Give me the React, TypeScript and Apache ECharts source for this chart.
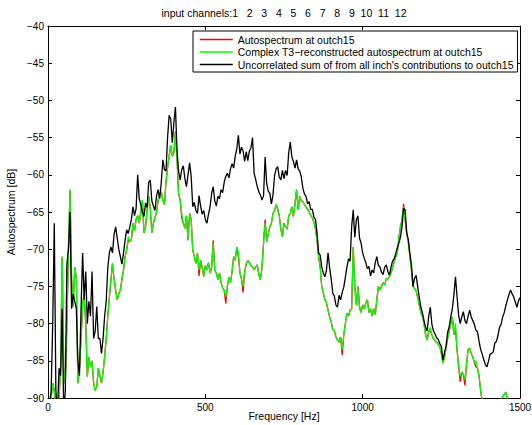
import React, { useEffect, useRef } from "react";
import * as echarts from "echarts";

// Frequency grid of the spectra (Hz), 5 Hz resolution from 0 to 1500 Hz
const FREQ_STEP = 5;
const frequencies: number[] = Array.from({ length: 301 }, (_, i) => i * FREQ_STEP);

const xTicks = [0, 500, 1000, 1500];
const yTicks = [-90, -85, -80, -75, -70, -65, -60, -55, -50, -45, -40];

const seriesNames = [
  "Autospectrum at outch15",
  "Complex T3\u2212reconstructed autospectrum at outch15",
  "Uncorrelated sum of from all inch's contributions to outch15",
];
const seriesColors = ["#ff0000", "#00ff00", "#000000"];

const titleText =
  "input channels:1\u00a0\u00a0\u00a02\u00a0\u00a0\u00a03\u00a0\u00a0\u00a04\u00a0\u00a0\u00a05\u00a0\u00a0\u00a06\u00a0\u00a0\u00a07\u00a0\u00a0\u00a08\u00a0\u00a0\u00a09\u00a0\u00a010\u00a0\u00a011\u00a0\u00a012";

// Uncorrelated sum (black), dB, one value per frequency
const uncorrelatedSum = [
  -95, -91, -89, -80, -66.5, -89, -92, -86, -87, -78,
  -92, -89, -72, -70, -65, -78, -76, -77, -78, -85,
  -87, -78, -70.5, -76.8, -73, -80, -77, -79, -73, -82,
  -81, -77.7, -82, -82, -84, -82, -79, -77, -72.5, -70.5,
  -69.7, -70.5, -68, -67, -68.5, -70, -71, -72, -70.5, -68.8,
  -67.4, -67.9, -67, -66, -64.3, -65.5, -64.5, -60, -63.2, -64,
  -65, -65.6, -63.8, -64.4, -61, -60.7, -63.5, -64.2, -64.8, -62.8,
  -62, -63.2, -61, -58, -59.3, -59.5, -55, -52, -52.5, -55.7,
  -53, -50.9, -56.7, -59.5, -60.7, -59.3, -58.8, -60.5, -61.6, -60,
  -58.4, -60.2, -64.3, -63.7, -64.8, -65.2, -62.8, -64.2, -65.3, -64.8,
  -66, -66.5, -65.3, -64.3, -62.5, -61.6, -63.5, -64.2, -62.9, -63.2,
  -62, -62.4, -61, -60.2, -59.8, -60.4, -59.2, -58.5, -59.1, -57.5,
  -56.5, -54.7, -57.2, -56.3, -56.8, -58.2, -56.9, -58.1, -56.8, -56.4,
  -55, -59.8, -60.6, -61.6, -62.3, -62.7, -63.4, -62.8, -57.6, -61.2,
  -62.2, -62.5, -63.9, -62.7, -60.1, -59.2, -58.9, -60.3, -60.7, -59.4,
  -60.5, -59.4, -60.1, -57, -55.6, -57.6, -58.2, -59.1, -58, -59.2,
  -59.5, -60.3, -61.8, -62.6, -62.9, -63.9, -63.6, -64.7, -64.6, -65.7,
  -66, -67.8, -70.5, -70.8, -72.4, -73.2, -73.7, -72.8, -70.5, -72.5,
  -74, -75.9, -76.3, -77.5, -77.8, -76.2, -76.8, -75.8, -75.1, -73.8,
  -72.4, -71.3, -71.6, -67, -64.7, -68.4, -66, -65.5, -68.5, -69.2,
  -70.5, -71.2, -71.8, -72.6, -72.3, -73.6, -72.8, -73.2, -71.8, -71,
  -72.2, -72.4, -73.1, -73.4, -72.4, -72.1, -73, -73.5, -72.4, -71.6,
  -71.3, -70.6, -69.8, -69.2, -68.4, -67, -64.5, -64.7, -67.8, -68.7,
  -70.5, -72.1, -75, -73.9, -73.5, -75.1, -76.5, -77.8, -78.6, -79.6,
  -80.5, -81, -79, -77.8, -80.1, -81, -81.4, -81.9, -82.1, -82.7,
  -83, -84.9, -83.9, -83, -81.2, -80.4, -79.1, -78, -76.1, -73.7,
  -76.4, -78.9, -80, -79.1, -78.4, -79.6, -80, -79, -78.2, -79.1,
  -79.6, -80.1, -80.9, -81.1, -82.4, -83.5, -84.1, -84.9, -85.5, -85.8,
  -85, -84.1, -84, -83.8, -82.6, -82.4, -81.6, -80.5, -80.1, -79.1,
  -78.5, -77.6, -76.8, -76.1, -75.5, -76, -76.4, -77.1, -77.8, -77,
  -76.5,
];

// Complex T3-reconstructed autospectrum (green), dB
const reconstructedSpectrum = [
  -95, -92, -90, -88, -89, -91, -92, -90, -86, -71,
  -86, -88, -80, -70, -62, -74.1, -77.7, -72.4, -74, -88,
  -86, -82, -77.3, -76, -80, -87.1, -84.5, -85.8, -85, -88,
  -89, -88.5, -86, -87, -88, -86.5, -84.5, -82, -79, -76.5,
  -74.1, -71.9, -74, -75.5, -76.8, -76, -75.5, -74, -72.8, -71,
  -70.1, -68.3, -69, -68.7, -66.5, -67.5, -66, -65.5, -66.5, -65,
  -63.4, -67.8, -67, -64.7, -62.9, -64.5, -67.8, -66.5, -65.8, -65,
  -63.4, -62.6, -62.3, -63.4, -64, -61, -59, -57.5, -56, -57.5,
  -57, -54.2, -57.9, -62.5, -63.4, -65.2, -66.5, -67.2, -65.5, -68.8,
  -65.2, -66, -70.1, -71, -71.9, -70.5, -72.8, -71.5, -72.4, -73.7,
  -72.2, -72.8, -71.8, -73.2, -72.4, -69.2, -72.8, -73.2, -74.1, -73.2,
  -74.5, -75.2, -75.5, -76.4, -75, -73.8, -74.5, -73, -71, -71.5,
  -69.7, -70.5, -73.2, -74, -75, -73, -72, -71.5, -71.8, -72.2,
  -72.4, -72.8, -72.4, -72.1, -73.4, -74.1, -72.5, -69.2, -66.5, -69,
  -68, -67, -66.5, -65.2, -64.8, -64, -64.6, -65.5, -67.3, -68.3,
  -66.5, -67, -67.3, -65.5, -65.2, -64.3, -65.6, -63.8, -62, -64.7,
  -62.9, -63.5, -63.6, -64, -64.3, -64.6, -65, -65.5, -65.8, -66.4,
  -67.2, -68.8, -71, -72.4, -75, -75.9, -76.8, -77.2, -78.2, -79.1,
  -79.8, -80.8, -81, -81.8, -82.2, -82.5, -81.8, -83.5, -81.5, -80,
  -78.6, -79, -78.2, -78, -69.7, -75, -77.5, -75, -77.8, -78.5,
  -77.5, -78, -77.2, -76.8, -78.5, -78, -79, -78, -78.8, -76.8,
  -75, -75.5, -75, -74.5, -74.8, -74, -74, -73.7, -73.2, -72.5,
  -71.7, -71, -70.5, -68.5, -67, -66.1, -64.3, -66.1, -67.8, -69,
  -71, -72.8, -75, -75.3, -75.6, -76.5, -77.5, -78.5, -79, -80,
  -81.5, -82.2, -81, -80.5, -81.5, -82, -82.3, -82.5, -82.8, -83.1,
  -84, -85.3, -84.5, -83.2, -82, -81, -80, -79.1, -81.5, -80,
  -83.5, -85.8, -87.1, -86.5, -86.8, -87.6, -85.5, -83.5, -83.3, -84,
  -84.5, -85.2, -85, -86, -87.1, -89, -90.5, -92, -93, -94,
  -95, -95, -95, -94, -93, -92, -91, -90.5, -90.2, -89.8,
  -89.5, -89.2, -90.3, -92, -93, -94, -94, -93, -92, -91,
  -90.2,
];

// Measured autospectrum (red): equal to the reconstruction except at these frequencies (Hz, dB)
const measuredDifferences: [number, number][] = [
  [255, -68.8], [425, -65.8], [480, -73.6], [525, -68.8], [565, -77.3],
  [605, -71], [620, -75.8], [690, -66], [935, -84.2], [1130, -63.9],
  [1215, -81], [1295, -80.8], [1310, -87.8], [1325, -88.3], [1360, -85.8],
  [1500, -90],
];

const FONT = "'Liberation Sans', Arial, Helvetica, sans-serif";

export default function App() {
  const ref = useRef<HTMLDivElement>(null);

  useEffect(() => {
    if (!ref.current) return;
    const chart = echarts.init(ref.current, null, { renderer: "svg" });

    const diffMap = new Map<number, number>(measuredDifferences);
    const measured = frequencies.map((f, i) =>
      diffMap.has(f) ? (diffMap.get(f) as number) : reconstructedSpectrum[i]
    );

    const toPairs = (vals: number[]) => frequencies.map((f, i) => [f, vals[i]]);

    const axisLine = { show: true, onZero: false, lineStyle: { color: "#000", width: 1 } };
    const tick = { show: true, inside: true, length: 4, lineStyle: { color: "#000", width: 1 } };
    const minusFmt = (v: number) => String(v).replace("-", "\u2212");

    chart.setOption({
      animation: false,
      backgroundColor: "#fff",
      textStyle: { fontFamily: FONT },
      grid: {
        left: 48,
        top: 26,
        width: 472,
        height: 372,
        containLabel: false,
        outerBoundsMode: "none",
        show: false,
      },
      graphic: [
        {
          type: "text",
          x: 284,
          y: 13,
          style: {
            text: titleText,
            fill: "#000",
            font: `10.5px ${FONT}`,
            align: "center",
            verticalAlign: "middle",
          },
        },
      ],
      legend: {
        show: true,
        orient: "vertical",
        left: 193,
        top: 31,
        padding: [3, 4, 2, 6],
        itemGap: 1.5,
        itemWidth: 33,
        itemHeight: 12,
        backgroundColor: "#fff",
        borderColor: "#000",
        borderWidth: 1,
        borderRadius: 0,
        selectedMode: false,
        itemStyle: { opacity: 0, borderWidth: 0 },
        textStyle: { fontSize: 10.5, color: "#000", fontFamily: FONT },
        data: seriesNames.map((name, i) => ({
          name,
          lineStyle: { color: seriesColors[i], width: 1.5, opacity: 1 },
        })),
      },
      xAxis: [
        {
          type: "value",
          position: "bottom",
          min: xTicks[0],
          max: xTicks[xTicks.length - 1],
          interval: 500,
          axisLine,
          axisTick: tick,
          splitLine: { show: false },
          axisLabel: {
            color: "#000",
            fontSize: 10,
            fontFamily: FONT,
            margin: 4,
            formatter: (v: number) => String(v),
          },
          name: "Frequency [Hz]",
          nameLocation: "middle",
          nameMoveOverlap: false,
          nameGap: 12,
          nameTextStyle: { color: "#000", fontSize: 10.5, fontFamily: FONT },
        },
        {
          type: "value",
          position: "top",
          min: xTicks[0],
          max: xTicks[xTicks.length - 1],
          interval: 500,
          axisLine,
          axisTick: tick,
          splitLine: { show: false },
          axisLabel: { show: false },
        },
      ],
      yAxis: [
        {
          type: "value",
          position: "left",
          min: yTicks[0],
          max: yTicks[yTicks.length - 1],
          interval: 5,
          axisLine,
          axisTick: tick,
          splitLine: { show: false },
          axisLabel: { color: "#000", fontSize: 10, fontFamily: FONT, margin: 4, formatter: minusFmt },
          name: "Autospectrum [dB]",
          nameLocation: "middle",
          nameGap: 29,
          nameTextStyle: { color: "#000", fontSize: 10.5, fontFamily: FONT },
        },
        {
          type: "value",
          position: "right",
          min: yTicks[0],
          max: yTicks[yTicks.length - 1],
          interval: 5,
          axisLine,
          axisTick: tick,
          splitLine: { show: false },
          axisLabel: { show: false },
        },
      ],
      series: seriesNames.map((name, i) => ({
        name,
        type: "line",
        data: toPairs([measured, reconstructedSpectrum, uncorrelatedSum][i]),
        symbol: "none",
        showSymbol: false,
        clip: true,
        z: 2 + i,
        lineStyle: { color: seriesColors[i], width: 1.3 },
        itemStyle: { color: seriesColors[i] },
      })),
    });

    return () => chart.dispose();
  }, []);

  return (
    <div
      ref={ref}
      style={{ position: "fixed", left: 0, top: 0, width: 532, height: 425, background: "#fff" }}
    />
  );
}
